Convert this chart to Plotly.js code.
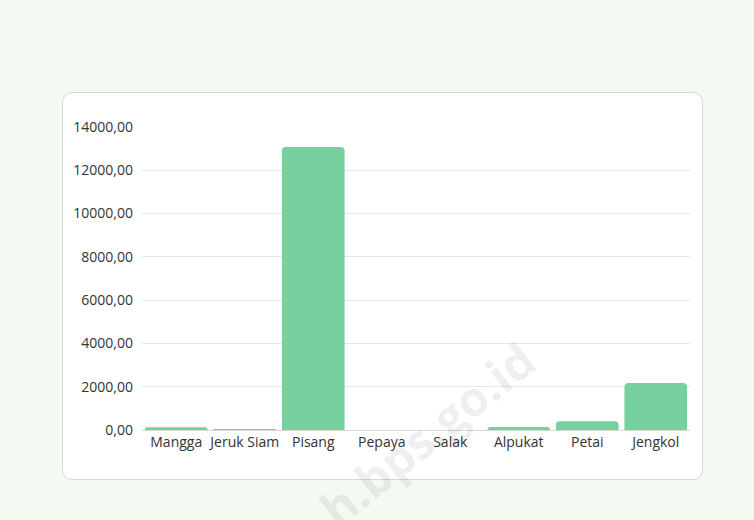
<!DOCTYPE html>
<html>
<head>
<meta charset="utf-8">
<script src="https://cdn.plot.ly/plotly-3.0.1.min.js"></script>
<style>
  html, body { margin: 0; padding: 0; background: #f3faf2; width: 754px; height: 520px; overflow: hidden; }
  #card { position: absolute; left: 62px; top: 92px; width: 641px; height: 388px; background: #fff;
          border: 1px solid #d6d9d6; border-radius: 10px; box-sizing: border-box; }
  #chart { position: absolute; left: 0; top: 0; width: 754px; height: 520px; }
</style>
</head>
<body>
<div id="card"></div>
<div id="chart"></div>
<script>
const categories = ["Mangga", "Jeruk Siam", "Pisang", "Pepaya", "Salak", "Alpukat", "Petai", "Jengkol"];
const values = [130, 50, 13080, 0, 0, 140, 410, 2170];
const tickValues = [0, 2000, 4000, 6000, 8000, 10000, 12000, 14000];

const trace = {
  type: "bar",
  x: categories,
  y: values,
  marker: { color: "#76d19e" },
  hoverinfo: "x+y"
};

const layout = {
  width: 754,
  height: 520,
  margin: { l: 142, r: 64, t: 127, b: 90 },
  paper_bgcolor: "rgba(0,0,0,0)",
  plot_bgcolor: "rgba(0,0,0,0)",
  separators: ",.",
  bargap: 0.085,
  barcornerradius: 4,
  font: { family: "Open Sans, Noto Sans, sans-serif", size: 14, color: "#333" },
  xaxis: {
    type: "category",
    showgrid: false,
    showline: false,
    ticks: "",
    ticklabelstandoff: 2,
    tickfont: { size: 14, color: "#333" }
  },
  yaxis: {
    range: [0, 14000],
    tickvals: tickValues,
    tickformat: ".2f",
    showgrid: true,
    gridcolor: "#e6e6e6",
    gridwidth: 1,
    zeroline: true,
    zerolinecolor: "#d8d8d8",
    zerolinewidth: 1,
    ticks: "",
    ticklabelstandoff: 8,
    tickfont: { size: 14, color: "#333" }
  },
  annotations: [{
    xref: "paper", yref: "paper",
    x: 0.52, y: -0.01,
    xanchor: "center", yanchor: "middle",
    text: "h.bps.go.id",
    showarrow: false,
    textangle: -39,
    font: { family: "Open Sans, sans-serif", size: 48, color: "rgba(0,0,0,0.08)", weight: 700 }
  }],
  showlegend: false
};

Plotly.newPlot("chart", [trace], layout, { displayModeBar: false, staticPlot: true });
</script>
</body>
</html>
